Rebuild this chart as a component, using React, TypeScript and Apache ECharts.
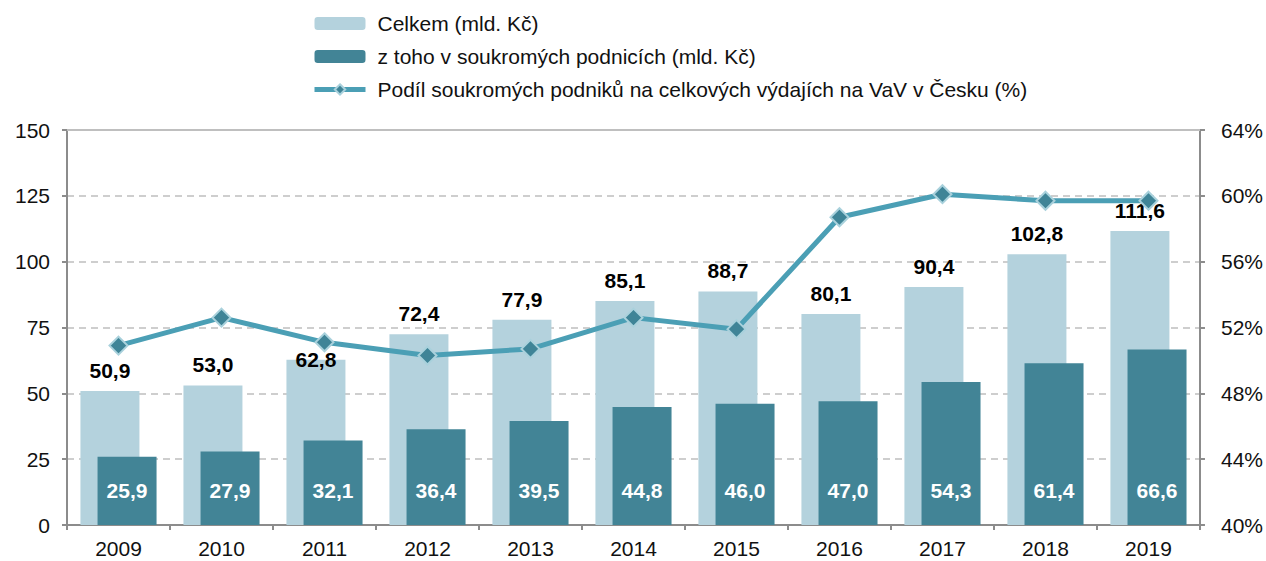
import React, { useEffect, useRef } from "react";
import * as echarts from "echarts";

const years = ["2009", "2010", "2011", "2012", "2013", "2014", "2015", "2016", "2017", "2018", "2019"];
const celkem = [50.9, 53.0, 62.8, 72.4, 77.9, 85.1, 88.7, 80.1, 90.4, 102.8, 111.6];
const soukrome = [25.9, 27.9, 32.1, 36.4, 39.5, 44.8, 46.0, 47.0, 54.3, 61.4, 66.6];
const podil = [50.9, 52.6, 51.1, 50.3, 50.7, 52.6, 51.9, 58.7, 60.1, 59.7, 59.7];

const FONT = "Liberation Sans, Arial, sans-serif";
const fmt = (v: number) => v.toFixed(1).replace(".", ",");

export default function App() {
  const ref = useRef<HTMLDivElement>(null);
  useEffect(() => {
    if (!ref.current) return;
    const chart = echarts.init(ref.current, undefined, { renderer: "svg" });
    const axisGray = "#8c8c8c";
    const lineColor = "#4b9fb5";
    chart.setOption({
      animation: false,
      textStyle: { fontFamily: FONT },
      legend: {
        orient: "vertical",
        left: 307,
        top: 8,
        itemWidth: 51,
        itemHeight: 13,
        itemGap: 12,
        textStyle: { fontFamily: FONT, fontSize: 21, color: "#111", padding: [0, 0, 0, 7] },
        data: [
          { name: "Celkem (mld. Kč)" },
          { name: "z toho v soukromých podnicích (mld. Kč)" },
          {
            name: "Podíl soukromých podniků na celkových výdajích na VaV v Česku (%)",
            lineStyle: { width: 5, color: lineColor },
          },
        ],
      },
      grid: { left: 67, right: 63, top: 130, bottom: 36, containLabel: false },
      xAxis: [
        {
          type: "category",
          data: years,
          axisLine: { lineStyle: { color: axisGray, width: 2 } },
          axisTick: { show: true, length: 5, lineStyle: { color: axisGray, width: 2 } },
          axisLabel: { color: "#111", fontSize: 21, margin: 13, fontFamily: FONT },
        },
        {
          type: "category",
          data: years,
          position: "top",
          axisLine: { lineStyle: { color: "#bfbfbf", width: 2 } },
          axisTick: { show: false },
          axisLabel: { show: false },
        },
      ],
      yAxis: [
        {
          type: "value",
          min: 0,
          max: 150,
          interval: 25,
          axisLine: { show: true, lineStyle: { color: axisGray, width: 2 } },
          axisTick: { show: true, length: 5, lineStyle: { color: axisGray, width: 2 } },
          axisLabel: { color: "#111", fontSize: 21, margin: 17, fontFamily: FONT },
          splitLine: { show: true, lineStyle: { color: "#bfbfbf", type: [7, 5], width: 1.5 } },
        },
        {
          type: "value",
          min: 40,
          max: 64,
          interval: 4,
          position: "right",
          axisLine: { show: true, lineStyle: { color: axisGray, width: 2 } },
          axisTick: { show: true, length: 5, lineStyle: { color: axisGray, width: 2 } },
          axisLabel: { color: "#111", fontSize: 21, margin: 21, fontFamily: FONT, formatter: (v: number) => v + "%" },
          splitLine: { show: false },
        },
      ],
      series: [
        {
          name: "Celkem (mld. Kč)",
          type: "bar",
          barWidth: 59,
          barGap: "-71%",
          itemStyle: { color: "#b4d2dd" },
          data: celkem.map((v, i) =>
            i === 2
              ? { value: v, label: { position: "top", offset: [0, 20] } }
              : { value: v }
          ),
          label: {
            show: true,
            position: "top",
            distance: 10,
            fontWeight: "bold",
            fontSize: 21,
            color: "#000",
            fontFamily: FONT,
            formatter: (p: any) => fmt(p.value),
          },
          z: 1,
        },
        {
          name: "z toho v soukromých podnicích (mld. Kč)",
          type: "bar",
          barWidth: 59,
          itemStyle: { color: "#428496" },
          data: soukrome,
          label: {
            show: true,
            position: "insideBottom",
            distance: 24,
            fontWeight: "bold",
            fontSize: 21,
            color: "#fff",
            fontFamily: FONT,
            formatter: (p: any) => fmt(p.value),
          },
          z: 2,
        },
        {
          name: "Podíl soukromých podniků na celkových výdajích na VaV v Česku (%)",
          type: "line",
          yAxisIndex: 1,
          data: podil,
          symbol: "diamond",
          symbolSize: 18,
          lineStyle: { color: lineColor, width: 5 },
          itemStyle: { color: "#3f8497", borderColor: "#a9d1dc", borderWidth: 2 },
          label: { show: false },
          z: 5,
        },
      ],
    });
    return () => chart.dispose();
  }, []);
  return <div ref={ref} style={{ position: "absolute", left: 0, top: 0, width: 1266, height: 561 }} />;
}
